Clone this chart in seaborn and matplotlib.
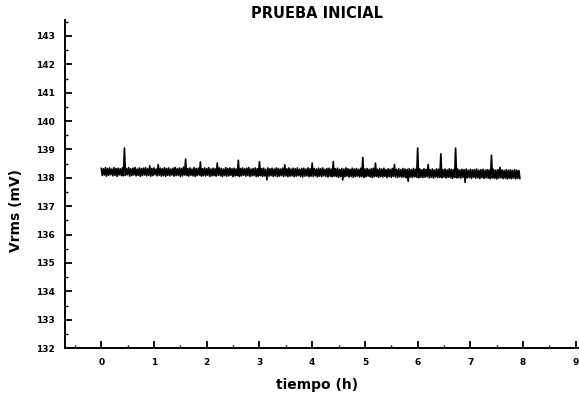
import numpy as np
import pandas as pd
import matplotlib
matplotlib.use("Agg")
import matplotlib.pyplot as plt
import seaborn as sns
from matplotlib.ticker import MultipleLocator

sns.set_style("ticks", {"axes.edgecolor": "black", "text.color": "black",
                        "xtick.color": "black", "ytick.color": "black"})
plt.rcParams["font.family"] = ["DejaVu Sans"]

# bin width of the recording (h); each bin keeps its max and min reading
dt_h = 0.04

vrms_max = [
    138.34, 138.32, 138.36, 138.33, 138.35, 138.31, 138.36, 138.33, 138.34, 138.32,
    138.35, 139.05, 138.33, 138.36, 138.32, 138.34, 138.37, 138.31, 138.35, 138.33,
    138.34, 138.36, 138.32, 138.42, 138.33, 138.35, 138.31, 138.47, 138.34, 138.32,
    138.36, 138.33, 138.35, 138.31, 138.34, 138.37, 138.32, 138.35, 138.33, 138.38,
    138.66, 138.33, 138.35, 138.31, 138.36, 138.33, 138.34, 138.56, 138.32, 138.35,
    138.33, 138.36, 138.31, 138.34, 138.32, 138.52, 138.35, 138.33, 138.31, 138.36,
    138.33, 138.35, 138.32, 138.34, 138.31, 138.62, 138.33, 138.35, 138.32, 138.34,
    138.36, 138.31, 138.33, 138.35, 138.32, 138.57, 138.33, 138.34, 138.30, 138.35,
    138.32, 138.34, 138.31, 138.35, 138.33, 138.31, 138.34, 138.46, 138.32, 138.35,
    138.31, 138.34, 138.32, 138.35, 138.30, 138.33, 138.34, 138.31, 138.35, 138.32,
    138.52, 138.33, 138.31, 138.34, 138.32, 138.35, 138.30, 138.33, 138.34, 138.31,
    138.57, 138.32, 138.34, 138.30, 138.33, 138.31, 138.35, 138.32, 138.30, 138.34,
    138.31, 138.33, 138.30, 138.34, 138.72, 138.31, 138.33, 138.30, 138.32, 138.34,
    138.52, 138.30, 138.33, 138.31, 138.34, 138.29, 138.32, 138.30, 138.33, 138.47,
    138.30, 138.32, 138.29, 138.33, 138.31, 138.30, 138.32, 138.29, 138.33, 138.30,
    139.05, 138.31, 138.29, 138.32, 138.30, 138.47, 138.29, 138.31, 138.28, 138.32,
    138.30, 138.85, 138.29, 138.31, 138.28, 138.32, 138.30, 138.29, 139.05, 138.31,
    138.28, 138.30, 138.29, 138.31, 138.27, 138.30, 138.28, 138.29, 138.31, 138.27,
    138.29, 138.30, 138.27, 138.29, 138.28, 138.80, 138.30, 138.27, 138.29, 138.37,
    138.28, 138.26, 138.29, 138.27, 138.28, 138.26, 138.29, 138.27, 138.26,
]

vrms_min = [
    138.08, 138.10, 138.06, 138.09, 138.11, 138.07, 138.09, 138.05, 138.10, 138.08,
    138.07, 138.09, 138.11, 138.06, 138.08, 138.10, 138.07, 138.09, 138.05, 138.08,
    138.10, 138.07, 138.09, 138.06, 138.08, 138.11, 138.07, 138.09, 138.06, 138.08,
    138.05, 138.09, 138.07, 138.10, 138.06, 138.08, 138.09, 138.05, 138.07, 138.10,
    138.08, 138.06, 138.09, 138.07, 138.05, 138.08, 138.10, 138.06, 138.08, 138.07,
    138.09, 138.05, 138.07, 138.08, 138.06, 138.09, 138.07, 138.05, 138.08, 138.06,
    138.07, 138.09, 138.04, 138.07, 138.08, 138.05, 138.07, 138.09, 138.06, 138.08,
    138.05, 138.07, 138.08, 138.04, 138.06, 138.08, 138.05, 138.07, 137.93, 138.06,
    138.08, 138.05, 138.07, 138.04, 138.06, 138.08, 138.05, 138.07, 138.04, 138.06,
    138.07, 138.04, 138.06, 138.08, 138.05, 138.03, 138.06, 138.07, 138.04, 138.06,
    138.05, 138.07, 138.03, 138.06, 138.04, 138.07, 138.05, 138.03, 138.06, 138.04,
    138.06, 138.04, 138.02, 138.05, 137.93, 138.04, 138.06, 138.03, 138.05, 138.02,
    138.04, 138.06, 138.03, 138.05, 138.02, 138.04, 138.06, 138.03, 138.01, 138.04,
    138.05, 138.02, 138.04, 138.03, 138.05, 138.01, 138.04, 138.02, 138.05, 138.03,
    138.01, 138.04, 138.02, 138.03, 138.00, 137.88, 138.03, 138.01, 138.04, 138.02,
    138.00, 138.03, 138.01, 138.02, 138.04, 138.00, 138.02, 137.99, 138.03, 138.01,
    138.02, 138.00, 138.03, 137.99, 138.02, 138.01, 137.98, 138.02, 138.00, 138.01,
    137.99, 138.02, 137.84, 138.00, 138.01, 137.98, 138.02, 137.99, 138.00, 137.97,
    138.01, 137.98, 138.00, 137.99, 137.97, 138.00, 137.98, 137.96, 137.99, 138.00,
    137.97, 137.99, 137.96, 137.98, 137.97, 137.99, 137.96, 137.98, 137.97,
]

x_ticks = [0, 1, 2, 3, 4, 5, 6, 7, 8, 9]
y_ticks = [132, 133, 134, 135, 136, 137, 138, 139, 140, 141, 142, 143]

# trace goes max -> min inside every bin
t0 = np.arange(len(vrms_max)) * dt_h
df = pd.DataFrame({
    "tiempo": np.column_stack([t0, t0 + dt_h / 2]).ravel(),
    "vrms": np.column_stack([vrms_max, vrms_min]).ravel(),
})

fig = plt.figure(figsize=(5.79, 3.96), dpi=100)
ax = fig.add_axes([0.112, 0.121, 0.888, 0.829])

sns.lineplot(data=df, x="tiempo", y="vrms", ax=ax, color="black",
             linewidth=1.2, sort=False)

ax.set_xlim(-0.69, 9.06)
ax.set_ylim(132, 143.57)
ax.set_xticks(x_ticks)
ax.set_yticks(y_ticks)
ax.xaxis.set_minor_locator(MultipleLocator(0.5))
ax.yaxis.set_minor_locator(MultipleLocator(0.5))
ax.tick_params(which="major", direction="in", length=5, width=1.3,
               labelsize=6.5, pad=7)
ax.tick_params(which="minor", direction="in", length=2.5, width=1.0)
for lab in ax.get_xticklabels() + ax.get_yticklabels():
    lab.set_fontweight("bold")
ax.set_xlabel("")
ax.set_ylabel("")
sns.despine(ax=ax)
for s in ["left", "bottom"]:
    ax.spines[s].set_linewidth(1.4)

fig.text(317 / 579, 1 - 13 / 396, "PRUEBA INICIAL", ha="center", va="center",
         fontsize=10.5, fontweight="bold", color="black")
fig.text(317 / 579, 1 - 385 / 396, "tiempo (h)", ha="center", va="center",
         fontsize=10, fontweight="bold", color="black")
fig.text(16 / 579, 1 - 210 / 396, "Vrms (mV)", ha="center", va="center",
         rotation=90, fontsize=10, fontweight="bold", color="black")

fig.savefig("out.png", dpi=100)
